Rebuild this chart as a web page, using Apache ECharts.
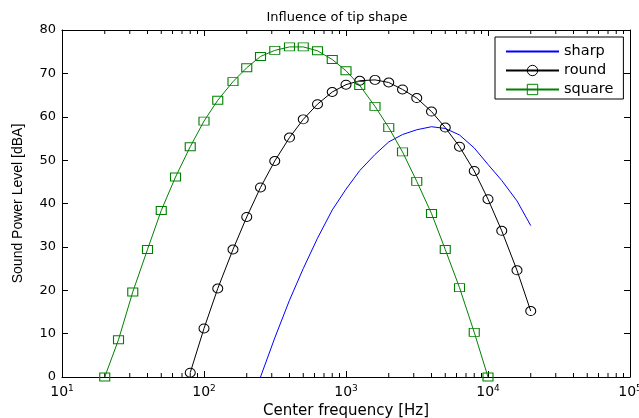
<!DOCTYPE html>
<html>
<head>
<meta charset="utf-8">
<script src="https://cdn.jsdelivr.net/npm/echarts@6/dist/echarts.min.js"></script>
<style>
  html, body { margin: 0; padding: 0; background: #fff; }
  #chart { width: 639px; height: 418px; }
</style>
</head>
<body>
<div id="chart"></div>
<script>
// 1/3-octave centre frequencies [Hz]
const sharpFreq = [250, 315, 400, 500, 630, 800, 1000, 1250, 1600, 2000, 2500, 3150, 4000, 5000, 6300, 8000, 10000, 12500, 16000, 20000]
const sharpLevel = [0, 9, 17.7, 25, 32, 38.5, 43.3, 47.6, 51.3, 54.2, 55.9, 57.0, 57.7, 57.3, 55.8, 52.8, 49, 45.3, 40.6, 34.9]

const roundFreq = [80, 100, 125, 160, 200, 250, 315, 400, 500, 630, 800, 1000, 1250, 1600, 2000, 2500, 3150, 4000, 5000, 6300, 8000, 10000, 12500, 16000, 20000]
const roundLevel = [1.0, 11.2, 20.4, 29.4, 36.9, 43.7, 49.8, 55.2, 59.4, 62.9, 65.7, 67.4, 68.3, 68.5, 67.9, 66.3, 64.3, 61.2, 57.5, 53.1, 47.5, 41.0, 33.7, 24.6, 15.2]

const squareFreq = [20, 25, 31.5, 40, 50, 63, 80, 100, 125, 160, 200, 250, 315, 400, 500, 630, 800, 1000, 1250, 1600, 2000, 2500, 3150, 4000, 5000, 6300, 8000, 10000]
const squareLevel = [0, 8.6, 19.6, 29.4, 38.4, 46.1, 53.1, 59.0, 63.8, 68.1, 71.3, 73.9, 75.3, 76.1, 76.1, 75.2, 73.2, 70.6, 67.2, 62.4, 57.5, 51.9, 45.1, 37.7, 29.4, 20.6, 10.3, 0]

// minor log ticks (2..9 x 10^n)
const minorTicks = []
for (let d = 10; d < 100000; d *= 10) {
  for (let k = 2; k <= 9; k++) minorTicks.push(k * d)
}

const zip = (xs, ys) => xs.map((x, i) => [x, ys[i]])

const chart = echarts.init(document.getElementById('chart'))
const font = 'DejaVu Sans'
const clear = 'rgba(0,0,0,0)'
const blue = '#0000ff'
const black = '#000000'
const green = '#008000'

const xCommon = {
  type: 'log',
  logBase: 10,
  min: 10,
  max: 100000,
  axisLine: { show: true, onZero: false, lineStyle: { color: '#000', width: 1 } },
  axisTick: { show: true, inside: true, length: 6, lineStyle: { color: '#000' } },
  splitLine: { show: false }
}
const yCommon = {
  type: 'value',
  min: 0,
  max: 80,
  interval: 10,
  axisLine: { show: true, lineStyle: { color: '#000', width: 1 } },
  axisTick: { show: true, inside: true, length: 6, lineStyle: { color: '#000' } },
  splitLine: { show: false }
}

chart.setOption({
  animation: false,
  backgroundColor: '#fff',
  title: {
    text: 'Influence of tip shape',
    left: 332,
    textAlign: 'center',
    top: 6,
    textStyle: { fontFamily: font, fontSize: 13, fontWeight: 'normal', color: '#000' }
  },
  grid: { left: 62, right: 9, top: 30, bottom: 41, containLabel: false, outerBoundsMode: 'none' },
  legend: {
    orient: 'vertical',
    left: 495,
    top: 37,
    padding: [7, 10, 2, 10],
    itemGap: 4,
    itemWidth: 53,
    itemHeight: 13,
    backgroundColor: '#fff',
    borderColor: '#000',
    borderWidth: 1,
    lineStyle: { width: 2, color: 'inherit' },
    itemStyle: { borderWidth: 1 },
    textStyle: { fontFamily: font, fontSize: 14.5, color: '#000' },
    data: ['sharp', 'round', 'square']
  },
  xAxis: [
    Object.assign({}, xCommon, {
      position: 'bottom',
      name: 'Center frequency [Hz]',
      nameLocation: 'middle',
      nameGap: 20,
      nameTextStyle: { fontFamily: font, fontSize: 15, color: '#000' },
      axisLabel: {
        show: true,
        margin: 7,
        showMinLabel: true,
        showMaxLabel: true,
        formatter: v => '{b|10}{s|' + Math.round(Math.log10(v)) + '}',
        rich: {
          b: { fontFamily: font, fontSize: 14, color: '#000', lineHeight: 15, verticalAlign: 'bottom' },
          s: { fontFamily: font, fontSize: 9, color: '#000', lineHeight: 15, verticalAlign: 'top' }
        }
      }
    }),
    Object.assign({}, xCommon, {
      position: 'top',
      axisLabel: { show: false }
    })
  ],
  yAxis: [
    Object.assign({}, yCommon, {
      position: 'left',
      name: 'Sound Power Level [dBA]',
      nameLocation: 'middle',
      nameGap: 37,
      nameTextStyle: { fontFamily: 'Liberation Sans', fontSize: 14, color: '#000' },
      axisLabel: { margin: 6, fontFamily: font, fontSize: 13, color: '#000' }
    }),
    Object.assign({}, yCommon, {
      position: 'right',
      axisLabel: { show: false }
    })
  ],
  series: [
    {
      name: 'minor',
      type: 'custom',
      xAxisIndex: 0,
      yAxisIndex: 0,
      silent: true,
      clip: false,
      data: minorTicks.map(f => [f]),
      renderItem: (params, api) => {
        const f = api.value(0)
        const b = api.coord([f, 0])
        const t = api.coord([f, 80])
        const style = { stroke: '#000', lineWidth: 1 }
        return {
          type: 'group',
          children: [
            { type: 'line', shape: { x1: b[0], y1: b[1], x2: b[0], y2: b[1] - 4 }, style },
            { type: 'line', shape: { x1: t[0], y1: t[1], x2: t[0], y2: t[1] + 4 }, style }
          ]
        }
      }
    },
    {
      name: 'sharp',
      type: 'line',
      data: zip(sharpFreq, sharpLevel),
      showSymbol: false,
      symbol: 'none',
      lineStyle: { color: blue, width: 1 },
      itemStyle: { color: clear, borderWidth: 0 }
    },
    {
      name: 'round',
      type: 'line',
      data: zip(roundFreq, roundLevel),
      symbol: 'circle',
      symbolSize: [10, 9],
      lineStyle: { color: black, width: 1 },
      itemStyle: { color: clear, borderColor: black, borderWidth: 1 }
    },
    {
      name: 'square',
      type: 'line',
      data: zip(squareFreq, squareLevel),
      symbol: 'rect',
      symbolSize: [10, 8],
      lineStyle: { color: green, width: 1 },
      itemStyle: { color: clear, borderColor: green, borderWidth: 1 }
    }
  ]
})
</script>
</body>
</html>
